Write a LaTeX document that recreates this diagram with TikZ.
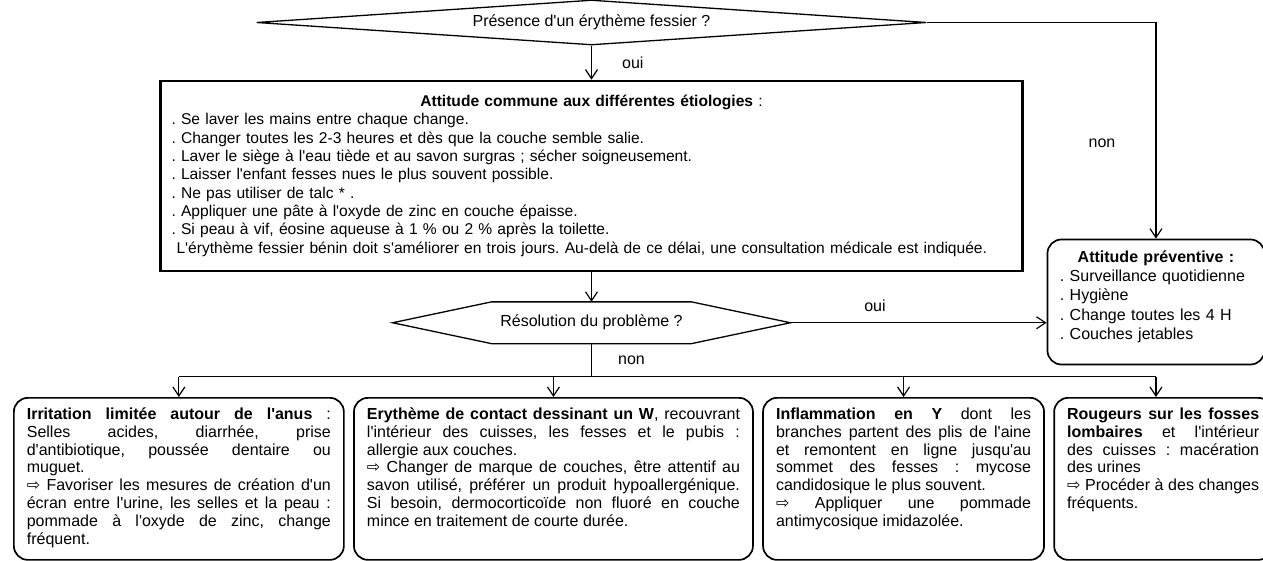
\documentclass[tikz,border=0pt]{standalone}
\usepackage{fontspec}
\setmainfont{Liberation Sans}[Ligatures=TeXOff]
\newfontfamily\symfont{DejaVu Sans}
\usepackage{tikz}
\usetikzlibrary{shapes.geometric, arrows.meta, positioning, calc}
\usepackage{xcolor}
\definecolor{cLine}{RGB}{0,0,0}
\frenchspacing
\hyphenpenalty=10000
\exhyphenpenalty=10000
\tolerance=10000
\tikzset{
  basebox/.style={rectangle, draw=cLine, font=\fontsize{8}{9.15}\selectfont},
  commonnode/.style={basebox, line width=1.1pt, text width=420pt,
                     inner xsep=5.5pt, minimum height=95pt, align=left,
                     font=\fontsize{7.8}{9.15}\selectfont},
  prevnode/.style={basebox, rounded corners=7pt, line width=0.85pt,
                   text width=96pt, inner xsep=6.25pt, inner ysep=5.5pt,
                   minimum height=62.5pt, align=left,
                   font=\fontsize{8}{9.6}\selectfont},
  casenode/.style={basebox, rounded corners=7pt, line width=0.85pt,
                   inner xsep=6.5pt, inner ysep=5pt,
                   font=\fontsize{8}{8.9}\selectfont},
  decisionnode/.style={diamond, draw=cLine, aspect=15, line width=0.65pt,
                       inner sep=0pt, font=\fontsize{8}{9.15}\selectfont},
  hexnode/.style={rectangle, inner sep=0pt, font=\fontsize{8}{9.15}\selectfont},
  hexline/.style={line width=0.65pt, draw=cLine},
  arrow/.style={-{Straight Barb[length=4.5pt,width=6pt]}, line width=0.6pt, color=cLine},
  plainline/.style={line width=0.6pt, color=cLine},
  lbl/.style={font=\fontsize{8}{9}\selectfont, inner sep=0pt}
}
\begin{document}
\begin{tikzpicture}[x=1pt, y=1pt]
  \useasboundingbox (0,0) rectangle (631.5,-280.5);
  \clip (0,0) rectangle (631.5,-280.5);

  \node[decisionnode, minimum width=335pt, minimum height=22.5pt] (presence)
      at (295.75,-11.25) {Présence d'un érythème fessier ?};

  \node[commonnode, below=17pt of presence] (common)
      {\centerline{\textbf{Attitude commune aux différentes étiologies} :}
       \noindent . Se laver les mains entre chaque change.\\
       . Changer toutes les 2-3 heures et dès que la couche semble salie.\\
       . Laver le siège à l'eau tiède et au savon surgras ; sécher soigneusement.\\
       . Laisser l'enfant fesses nues le plus souvent possible.\\
       . Ne pas utiliser de talc * .\\
       . Appliquer une pâte à l'oxyde de zinc en couche épaisse.\\
       . Si peau à vif, éosine aqueuse à 1 \% ou 2 \% après la toilette.\\
       \hspace*{2.5pt}L'érythème fessier bénin doit s'améliorer en trois jours. Au-delà de ce délai, une consultation médicale est indiquée.};

  \node[hexnode, minimum width=198.5pt, minimum height=20.5pt,
        below=15pt of common] (resol) {Résolution du problème ?};
  \draw[hexline] (resol.west) -- ([xshift=49.5pt]resol.north west)
      -- ([xshift=-49.5pt]resol.north east) -- (resol.east)
      -- ([xshift=-49.5pt]resol.south east)
      -- ([xshift=49.5pt]resol.south west) -- cycle;

  \node[prevnode, below right=79.5pt and 11.5pt of common.north east] (prevent)
      {\centerline{\textbf{Attitude préventive :}}
       \noindent . Surveillance quotidienne\\
       . Hygiène\\
       . Change toutes les 4 H\\
       . Couches jetables\rule[-7pt]{0pt}{7pt}};

  \coordinate (bus) at ([yshift=-16.5pt]resol.south);

  \node[casenode, anchor=north west] (irrit) at (6.5,-198.5)
      {\parbox[c][71pt][t]{152pt}{%
       \textbf{Irritation limitée autour de l'anus} :\linebreak
       Selles acides, diarrhée, prise\linebreak
       d'antibiotique, poussée dentaire ou\linebreak
       muguet.\par
       {\symfont ⇨} Favoriser les mesures de création d'un\linebreak
       écran entre l'urine, les selles et la peau :\linebreak
       pommade à l'oxyde de zinc, change\linebreak
       fréquent.}};

  \node[casenode, right=4.2pt of irrit] (contact)
      {\parbox[c][71pt][t]{186.5pt}{%
       \textbf{Erythème de contact dessinant un W}, recouvrant\linebreak
       l'intérieur des cuisses, les fesses et le pubis :\linebreak
       allergie aux couches.\par
       {\symfont ⇨} Changer de marque de couches, être attentif au\linebreak
       savon utilisé, préférer un produit hypoallergénique.\linebreak
       Si besoin, dermocorticoïde non fluoré en couche\linebreak
       mince en traitement de courte durée.}};

  \node[casenode, right=4.2pt of contact] (inflam)
      {\parbox[c][71pt][t]{127.5pt}{%
       \textbf{Inflammation en Y} dont les\linebreak
       branches partent des plis de l'aine\linebreak
       et remontent en ligne jusqu'au\linebreak
       sommet des fesses : mycose\linebreak
       candidosique le plus souvent.\par
       {\symfont ⇨} Appliquer une pommade\linebreak
       antimycosique imidazolée.}};

  \node[casenode, right=4.2pt of inflam] (rougeur)
      {\parbox[c][71pt][t]{96pt}{%
       \textbf{Rougeurs sur les fosses\linebreak
       lombaires} et l'intérieur\linebreak
       des cuisses : macération\linebreak
       des urines\par
       {\symfont ⇨} Procéder à des~changes\linebreak
       fréquents.}};

  \draw[arrow] (presence.south) -- node[lbl, right=15pt]{oui} (common.north);
  \draw[arrow] (presence.east) -- (presence.east -| prevent.north)
      -- node[lbl, pos=0.56, left=20pt]{non} (prevent.north);
  \draw[arrow] (common.south) -- (resol.north);
  \draw[arrow] (resol.east) -- node[lbl, pos=0.33, above=5pt]{oui} (resol.east -| prevent.west);
  \draw[plainline] (resol.south) -- node[lbl, right=13pt]{non} (bus);
  \draw[plainline] (bus -| irrit.north) -- (bus -| prevent.north);
  \draw[arrow] (bus -| irrit.north) -- (irrit.north);
  \draw[arrow] (bus -| contact.north) -- (contact.north);
  \draw[arrow] (bus -| inflam.north) -- (inflam.north);
  \draw[arrow] (bus -| prevent.north) -- (rougeur.north -| prevent.north);

\end{tikzpicture}
\end{document}
